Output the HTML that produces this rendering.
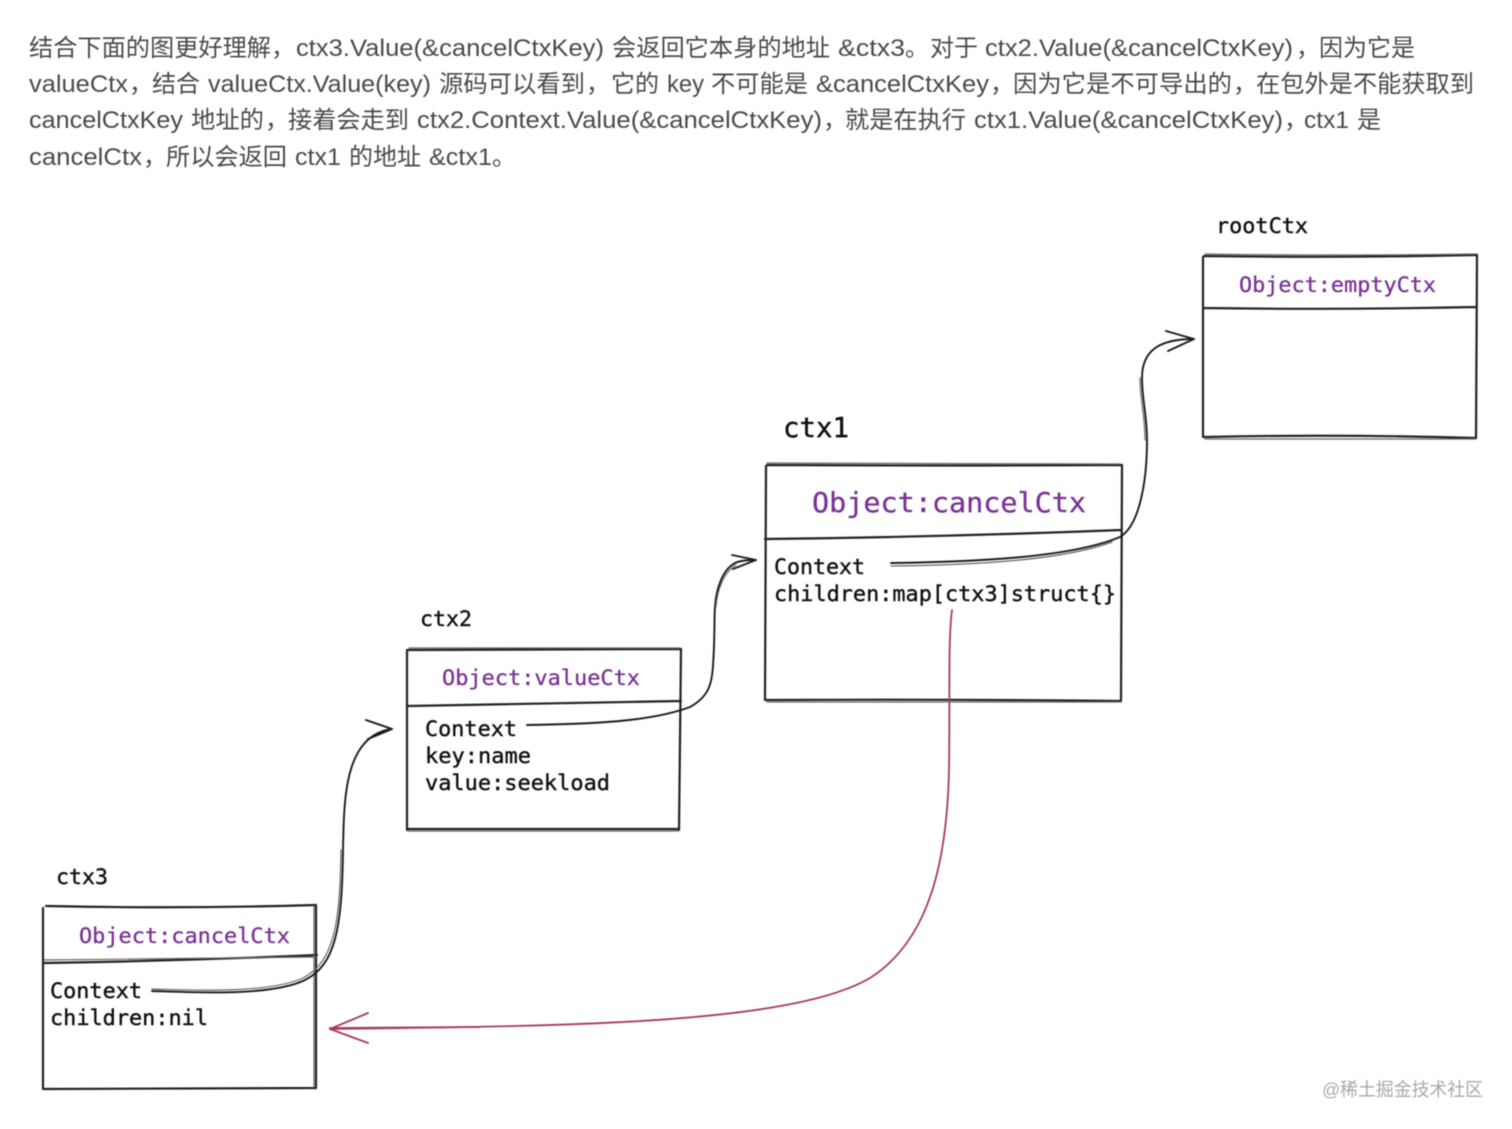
<!DOCTYPE html>
<html lang="zh"><head><meta charset="utf-8"><title>ctx diagram</title>
<style>
html,body{margin:0;padding:0;background:#fff}
svg{display:block;filter:blur(.4px)}
.p text,.p{font-family:"Liberation Sans","Noto Sans CJK SC",sans-serif;font-size:24px;fill:#4a4a4a}
.m{font-family:"DejaVu Sans Mono","Liberation Mono",monospace;fill:#111;stroke:#111;stroke-width:.4}
.o{font-family:"DejaVu Sans Mono","Liberation Mono",monospace;fill:#7b3296;stroke:#7b3296;stroke-width:.3}
.b{fill:none;stroke:#222;stroke-width:2.2;stroke-linecap:round}
.b2{fill:none;stroke:#666;stroke-width:1.2;stroke-linecap:round}
.a{fill:none;stroke:#1c1c1c;stroke-width:1.9;stroke-linecap:round;stroke-linejoin:round}
.r{fill:none;stroke:#a83a62;stroke-width:1.8;stroke-linecap:round;stroke-linejoin:round}
</style></head><body>
<svg width="1512" height="1129" viewBox="0 0 1512 1129" xmlns="http://www.w3.org/2000/svg">
<rect width="1512" height="1129" fill="#fff"/>
<g class="p">
<text y="56" x="29" textLength="242" lengthAdjust="spacingAndGlyphs">结合下面的图更好理解</text><text y="56" x="271">，</text>
<text y="56" x="296" textLength="308" lengthAdjust="spacingAndGlyphs">ctx3.Value(&amp;cancelCtxKey)</text>
<text y="56" x="612" textLength="218" lengthAdjust="spacingAndGlyphs">会返回它本身的地址</text>
<text y="56" x="838" textLength="67" lengthAdjust="spacingAndGlyphs">&amp;ctx3</text><text y="56" x="905">。</text>
<text y="56" x="930" textLength="48" lengthAdjust="spacingAndGlyphs">对于</text>
<text y="56" x="985" textLength="308" lengthAdjust="spacingAndGlyphs">ctx2.Value(&amp;cancelCtxKey)</text><text y="56" x="1296">，</text>
<text y="56" x="1319" textLength="96" lengthAdjust="spacingAndGlyphs">因为它是</text>

<text y="92" x="29" textLength="99" lengthAdjust="spacingAndGlyphs">valueCtx</text><text y="92" x="129">，</text>
<text y="92" x="152" textLength="48" lengthAdjust="spacingAndGlyphs">结合</text>
<text y="92" x="208" textLength="223" lengthAdjust="spacingAndGlyphs">valueCtx.Value(key)</text>
<text y="92" x="439" textLength="146" lengthAdjust="spacingAndGlyphs">源码可以看到</text><text y="92" x="586">，</text>
<text y="92" x="611" textLength="48" lengthAdjust="spacingAndGlyphs">它的</text>
<text y="92" x="667" textLength="37" lengthAdjust="spacingAndGlyphs">key</text>
<text y="92" x="711" textLength="97" lengthAdjust="spacingAndGlyphs">不可能是</text>
<text y="92" x="816" textLength="173" lengthAdjust="spacingAndGlyphs">&amp;cancelCtxKey</text><text y="92" x="990">，</text>
<text y="92" x="1013" textLength="219" lengthAdjust="spacingAndGlyphs">因为它是不可导出的</text><text y="92" x="1233">，</text>
<text y="92" x="1256" textLength="218" lengthAdjust="spacingAndGlyphs">在包外是不能获取到</text>

<text y="128" x="29" textLength="154" lengthAdjust="spacingAndGlyphs">cancelCtxKey</text>
<text y="128" x="191" textLength="73" lengthAdjust="spacingAndGlyphs">地址的</text><text y="128" x="265">，</text>
<text y="128" x="288" textLength="121" lengthAdjust="spacingAndGlyphs">接着会走到</text>
<text y="128" x="417" textLength="405" lengthAdjust="spacingAndGlyphs">ctx2.Context.Value(&amp;cancelCtxKey)</text><text y="128" x="823">，</text>
<text y="128" x="845" textLength="121" lengthAdjust="spacingAndGlyphs">就是在执行</text>
<text y="128" x="974" textLength="309" lengthAdjust="spacingAndGlyphs">ctx1.Value(&amp;cancelCtxKey)</text><text y="128" x="1284">，</text>
<text y="128" x="1304" textLength="45" lengthAdjust="spacingAndGlyphs">ctx1</text>
<text y="128" x="1357" textLength="24" lengthAdjust="spacingAndGlyphs">是</text>

<text y="165" x="29" textLength="113" lengthAdjust="spacingAndGlyphs">cancelCtx</text><text y="165" x="143">，</text>
<text y="165" x="166" textLength="121" lengthAdjust="spacingAndGlyphs">所以会返回</text>
<text y="165" x="295" textLength="46" lengthAdjust="spacingAndGlyphs">ctx1</text>
<text y="165" x="349" textLength="72" lengthAdjust="spacingAndGlyphs">的地址</text>
<text y="165" x="429" textLength="63" lengthAdjust="spacingAndGlyphs">&amp;ctx1</text><text y="165" x="492">。</text>
</g>

<!-- rootCtx -->
<text class="m" x="1216" y="233" font-size="21.5" textLength="92" lengthAdjust="spacingAndGlyphs">rootCtx</text>
<path class="b" d="M1204 256Q1340 258 1477 255M1203 257L1203 437M1477 255L1476 438M1203 308Q1340 310 1476 307M1204 437Q1340 434 1476 438"/>
<path class="b2" d="M1205 254Q1340 256 1477 254M1205 439L1476 439"/>
<text class="o" x="1239" y="292" font-size="21.5" textLength="197" lengthAdjust="spacingAndGlyphs">Object:emptyCtx</text>

<!-- ctx1 -->
<text class="m" x="783" y="437" font-size="27.5" textLength="66" lengthAdjust="spacingAndGlyphs">ctx1</text>
<path class="b" d="M767 465Q945 466 1122 465M766 466L765 700M1122 465L1121 701M765 539Q945 537 1121 530M766 700Q945 699 1121 701"/>
<path class="b2" d="M767 463Q945 464 1120 464M767 702L1121 702"/>
<text class="o" x="812" y="512" font-size="27.5" textLength="274" lengthAdjust="spacingAndGlyphs">Object:cancelCtx</text>
<text class="m" x="774" y="574" font-size="21.5" textLength="91" lengthAdjust="spacingAndGlyphs">Context</text>
<text class="m" x="774" y="601" font-size="21.5" textLength="342" lengthAdjust="spacingAndGlyphs">children:map[ctx3]struct{}</text>

<!-- ctx2 -->
<text class="m" x="420" y="626" font-size="21.5" textLength="52" lengthAdjust="spacingAndGlyphs">ctx2</text>
<path class="b" d="M408 650Q545 650 681 649M407 650L407 830M681 650L679 830M408 706Q545 704 681 701M408 829L679 829"/>
<path class="b2" d="M409 648L680 648M408 831L678 831"/>
<text class="o" x="442" y="685" font-size="21.5" textLength="198" lengthAdjust="spacingAndGlyphs">Object:valueCtx</text>
<text class="m" x="425" y="736" font-size="21.5" textLength="92" lengthAdjust="spacingAndGlyphs">Context</text>
<text class="m" x="425" y="763" font-size="21.5" textLength="106" lengthAdjust="spacingAndGlyphs">key:name</text>
<text class="m" x="425" y="790" font-size="21.5" textLength="185" lengthAdjust="spacingAndGlyphs">value:seekload</text>

<!-- ctx3 -->
<text class="m" x="56" y="884" font-size="21.5" textLength="52" lengthAdjust="spacingAndGlyphs">ctx3</text>
<path class="b" d="M46 906Q180 909 316 905M43 908L43 1089M316 905L316 1088M44 963Q180 961 317 955M44 1089Q180 1088 316 1088"/>
<path class="b2" d="M44 960Q180 958 316 957M314 906L314 1087"/>
<text class="o" x="79" y="943" font-size="21.5" textLength="211" lengthAdjust="spacingAndGlyphs">Object:cancelCtx</text>
<text class="m" x="50" y="998" font-size="21.5" textLength="92" lengthAdjust="spacingAndGlyphs">Context</text>
<text class="m" x="50" y="1025" font-size="21.5" textLength="158" lengthAdjust="spacingAndGlyphs">children:nil</text>

<!-- connectors -->
<path class="a" d="M152 991C190 992 270 997 305 980C335 965 342 930 343 850C344 800 344 735 392 729"/>
<path class="b2" d="M152 989C190 990 268 994 303 978C333 962 340 928 341 850"/>
<path class="a" d="M366 720L392 729L368 739"/>
<path class="a" d="M527 725C590 724 650 722 690 707C708 697 712 685 713 665C715 640 714 620 715 607C716 590 722 570 735 563C742 560 750 560 756 560"/>
<path class="b2" d="M716 607C717 590 724 572 736 565"/>
<path class="a" d="M732 555L756 560L733 569"/>
<path class="a" d="M891 563C970 562 1070 558 1120 537C1140 525 1147 480 1147 440C1147 415 1142 400 1142 378C1142 350 1160 339 1194 339"/>
<path class="b2" d="M891 566C970 565 1060 561 1112 542M1145 440C1145 415 1140 400 1140 378"/>
<path class="a" d="M1166 331L1194 339L1168 351"/>
<path class="r" d="M952 610C948 640 950 700 949 770C947 860 930 940 870 978C790 1025 560 1026 330 1029"/>
<path class="r" d="M368 1013L330 1029L368 1043M330 1028L480 1027" stroke-width="1.4"/>

<text x="1322" y="1096" font-family="'Liberation Sans','Noto Sans CJK SC',sans-serif" font-size="18.5" fill="#a9a9a9" textLength="161" lengthAdjust="spacingAndGlyphs">@稀土掘金技术社区</text>
</svg>
</body></html>
